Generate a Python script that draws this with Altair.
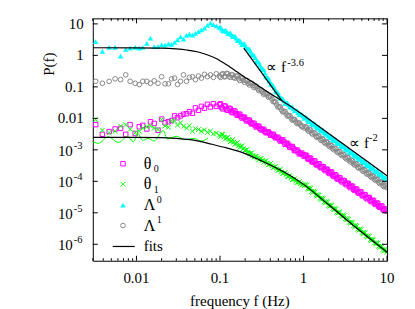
import altair as alt
import pandas as pd

FONT = "Liberation Serif"

# ---- data ----
freq = [
    0.00325, 0.00391, 0.00471, 0.00555, 0.00646, 0.00744, 0.0084, 0.00965, 0.0108, 0.0119,
    0.0133, 0.0147, 0.0163, 0.0181, 0.0200, 0.0220, 0.0241, 0.0263, 0.0286, 0.0310,
    0.0337, 0.0366, 0.0397, 0.0431, 0.0468, 0.0508, 0.0552, 0.0599, 0.0651, 0.0707,
    0.0767, 0.0833, 0.0905, 0.0983,
    0.105, 0.112, 0.120, 0.128, 0.137, 0.146, 0.156, 0.167, 0.178, 0.190,
    0.203, 0.217, 0.232, 0.247, 0.264, 0.282, 0.301, 0.322, 0.344, 0.367,
    0.392, 0.419, 0.447, 0.478, 0.510, 0.545, 0.582, 0.621, 0.664, 0.709,
    0.757, 0.808, 0.863, 0.922, 0.985,
    1.05, 1.12, 1.18, 1.25, 1.33, 1.41, 1.49, 1.58, 1.67, 1.77,
    1.88, 1.99, 2.11, 2.23, 2.37, 2.51, 2.65, 2.81, 2.98, 3.16,
    3.34, 3.54, 3.75, 3.98, 4.21, 4.46, 4.73, 5.01, 5.30, 5.62,
    5.95, 6.31, 6.68, 7.08, 7.50, 7.94, 8.41, 8.91, 9.44, 10.0,
]
theta0 = [
    0.0063, 0.0031, 0.0038, 0.0046, 0.0048, 0.0031, 0.0063, 0.0033, 0.0054, 0.006,
    0.0046, 0.0078, 0.0069, 0.0042, 0.0095, 0.0072, 0.0078, 0.0085, 0.012, 0.0105,
    0.012, 0.0135, 0.014, 0.0163, 0.0145, 0.0215, 0.018, 0.024, 0.021, 0.028,
    0.023, 0.029, 0.024, 0.027,
    0.022, 0.025, 0.019, 0.021, 0.016, 0.0175, 0.014, 0.0135, 0.0115, 0.011,
    0.0092, 0.0088, 0.0074, 0.0070, 0.0059, 0.0057, 0.0048, 0.0044, 0.0039, 0.0036,
    0.0033, 0.0031, 0.0027, 0.0025, 0.0022, 0.0020, 0.0018, 0.0016, 0.0014, 0.00125,
    0.0011, 0.00097, 0.00086, 0.00077, 0.0007,
    6.8e-4, 5.4e-4, 5.5e-4, 4.4e-4, 4.5e-4, 3.55e-4, 3.6e-4, 2.9e-4, 2.95e-4, 2.4e-4,
    2.45e-4, 1.9e-4, 2.0e-4, 1.58e-4, 1.62e-4, 1.26e-4, 1.32e-4, 1.05e-4, 1.07e-4, 8.5e-5,
    8.7e-5, 6.9e-5, 7.1e-5, 5.6e-5, 5.75e-5, 4.6e-5, 4.7e-5, 3.7e-5, 3.8e-5, 3.0e-5,
    3.1e-5, 2.45e-5, 2.5e-5, 2.0e-5, 2.04e-5, 1.62e-5, 1.66e-5, 1.32e-5, 1.35e-5, 1.15e-5,
]
theta1 = [
    0.0091, 0.0042, 0.0035, 0.0039, 0.0057, 0.0063, 0.0045, 0.0035, 0.0039, 0.0049,
    0.0054, 0.0057, 0.0049, 0.0044, 0.0091, 0.0057, 0.0052, 0.0083, 0.0083, 0.0061,
    0.0072, 0.0056, 0.0049, 0.0058, 0.0039, 0.0047, 0.0044, 0.0039, 0.0043, 0.0036,
    0.0039, 0.0032, 0.0034, 0.0029,
    0.0031, 0.0026, 0.0024, 0.0021, 0.0019, 0.00175, 0.0016, 0.00135, 0.00128, 0.00108,
    0.00098, 0.00084, 0.00078, 0.00066, 0.00061, 0.00055, 0.00052, 0.00046, 0.00043, 0.00038,
    0.00035, 0.00031, 0.00028, 0.00025, 0.00023, 0.0002, 0.00018, 0.000165, 0.000145, 0.000128,
    0.000115, 0.000103, 0.000093, 0.000085, 0.000079,
    7.9e-5, 6.0e-5, 6.2e-5, 4.8e-5, 4.9e-5, 3.7e-5, 3.8e-5, 2.9e-5, 2.95e-5, 2.24e-5,
    2.3e-5, 1.74e-5, 1.78e-5, 1.35e-5, 1.38e-5, 1.05e-5, 1.07e-5, 8.3e-6, 8.5e-6, 6.5e-6,
    6.6e-6, 5.0e-6, 5.1e-6, 3.9e-6, 4.0e-6, 3.0e-6, 3.1e-6, 2.35e-6, 2.4e-6, 1.82e-6,
    1.86e-6, 1.41e-6, 1.45e-6, 1.1e-6, 1.12e-6, 8.7e-7, 8.9e-7, 6.8e-7, 6.9e-7, 5.6e-7,
]
lambda0 = [
    2.75, 1.33, 1.8, 1.8, 0.95, 1.55, 1.7, 1.8, 1.7, 1.78,
    2.4, 3.5, 1.9, 1.9, 2.2, 2.1, 2.3, 2.25, 2.6, 3.1,
    3.9, 3.3, 4.3, 4.7, 4.4, 5.0, 5.7, 6.5, 7.3, 9.0,
    10.5, 9.5, 8.6, 7.8,
    6.8, 6.0, 5.8, 5.0, 4.6, 4.0, 3.5, 3.0, 2.6, 2.3,
    1.95, 1.6, 1.35, 1.05, 0.85, 0.65, 0.5, 0.38, 0.28, 0.2,
    0.155, 0.118, 0.092, 0.07, 0.054, 0.043, 0.036, 0.031, 0.027, 0.023,
    0.020, 0.0175, 0.0152, 0.0133, 0.0117,
    0.011, 8.7e-3, 8.5e-3, 6.8e-3, 7.1e-3, 5.6e-3, 5.4e-3, 4.3e-3, 4.4e-3, 3.5e-3,
    3.4e-3, 2.75e-3, 2.7e-3, 2.14e-3, 2.2e-3, 1.7e-3, 1.66e-3, 1.35e-3, 1.38e-3, 1.07e-3,
    1.1e-3, 8.5e-4, 8.3e-4, 6.8e-4, 6.9e-4, 5.4e-4, 5.5e-4, 4.3e-4, 4.4e-4, 3.3e-4,
    3.4e-4, 2.7e-4, 2.75e-4, 2.1e-4, 2.15e-4, 1.7e-4, 1.74e-4, 1.32e-4, 1.35e-4, 1.12e-4,
]
lambda1 = [
    0.15, 0.13, 0.15, 0.18, 0.17, 0.24, 0.15, 0.13, 0.118, 0.15,
    0.15, 0.13, 0.155, 0.13, 0.21, 0.125, 0.125, 0.18, 0.19, 0.12,
    0.15, 0.24, 0.15, 0.2, 0.21, 0.17, 0.22, 0.19, 0.25, 0.21,
    0.24, 0.2, 0.26, 0.22,
    0.25, 0.21, 0.27, 0.22, 0.24, 0.2, 0.22, 0.18, 0.19, 0.16,
    0.16, 0.13, 0.13, 0.11, 0.105, 0.088, 0.082, 0.068, 0.062, 0.055,
    0.05, 0.041, 0.034, 0.027, 0.023, 0.0185, 0.0165, 0.0138, 0.0122, 0.0103,
    0.0092, 0.0078, 0.0071, 0.0061, 0.0056,
    5.4e-3, 4.3e-3, 4.4e-3, 3.4e-3, 3.5e-3, 2.7e-3, 2.75e-3, 2.2e-3, 2.24e-3, 1.74e-3,
    1.78e-3, 1.38e-3, 1.41e-3, 1.1e-3, 1.12e-3, 8.7e-4, 8.9e-4, 7.1e-4, 7.2e-4, 5.6e-4,
    5.75e-4, 4.5e-4, 4.6e-4, 3.55e-4, 3.6e-4, 2.8e-4, 2.9e-4, 2.3e-4, 2.35e-4, 1.82e-4,
    1.86e-4, 1.45e-4, 1.48e-4, 1.15e-4, 1.17e-4, 9.3e-5, 9.5e-5, 7.4e-5, 7.6e-5, 6.3e-5,
]

# second (interleaved) set of spectral estimates in the dense high-frequency part
freq_b = [
    0.1015, 0.1085, 0.116, 0.124, 0.1325, 0.1415, 0.151, 0.1615, 0.1725, 0.184,
    0.1965, 0.21, 0.2245, 0.2395, 0.2555, 0.273, 0.2915, 0.3115, 0.333, 0.3555,
    0.3795, 0.4055, 0.433, 0.4625, 0.494, 0.5275, 0.5635, 0.6015, 0.6425, 0.6865,
    0.733, 0.7825, 0.8355, 0.8925, 0.9535,
    1.02, 1.085, 1.15, 1.215, 1.29, 1.37, 1.45, 1.535, 1.625, 1.72,
    1.825, 1.935, 2.05, 2.17, 2.30, 2.44, 2.58, 2.73, 2.895, 3.07,
    3.25, 3.44, 3.645, 3.865, 4.095, 4.335, 4.595, 4.87, 5.155, 5.46,
    5.785, 6.13, 6.495, 6.88, 7.29, 7.72, 8.175, 8.66, 9.17, 9.72,
]
theta0_b = [
    0.029, 0.02, 0.024, 0.018, 0.02, 0.0152, 0.0168, 0.0125, 0.0135, 0.0102,
    0.0108, 0.0082, 0.0087, 0.0066, 0.0069, 0.0053, 0.0056, 0.0043, 0.0045, 0.0035,
    0.0037, 0.0029, 0.0031, 0.0024, 0.0025, 0.0019, 0.0021, 0.0015, 0.0016, 0.0012,
    0.00128, 0.00094, 0.00099, 0.00074, 0.00079,
    6.2e-4, 6.6e-4, 4.98e-4, 5.4e-4, 4.06e-4, 4.38e-4, 3.29e-4, 3.57e-4, 2.69e-4, 2.92e-4,
    2.18e-4, 2.36e-4, 1.77e-4, 1.92e-4, 1.44e-4, 1.56e-4, 1.17e-4, 1.28e-4, 9.6e-5, 1.04e-4,
    7.8e-5, 8.5e-5, 6.3e-5, 6.9e-5, 5.15e-5, 5.6e-5, 4.2e-5, 4.55e-5, 3.42e-5, 3.71e-5,
    2.78e-5, 3.01e-5, 2.26e-5, 2.45e-5, 1.84e-5, 2.0e-5, 1.5e-5, 1.63e-5, 1.22e-5, 1.29e-5,
]
theta1_b = [
    0.0026, 0.0031, 0.0022, 0.0025, 0.0018, 0.0021, 0.0015, 0.0017, 0.0012, 0.00135,
    0.00095, 0.00102, 0.00074, 0.0008, 0.00058, 0.00063, 0.00048, 0.00054, 0.0004, 0.00045,
    0.00033, 0.00037, 0.00027, 0.0003, 0.00022, 0.00024, 0.000175, 0.00019, 0.000142, 0.000152,
    0.000112, 0.000121, 0.000091, 0.000097, 0.000076,
    7.3e-5, 7.6e-5, 5.6e-5, 5.97e-5, 4.37e-5, 4.6e-5, 3.39e-5, 3.6e-5, 2.64e-5, 2.81e-5,
    2.06e-5, 2.18e-5, 1.6e-5, 1.7e-5, 1.24e-5, 1.32e-5, 9.7e-6, 1.03e-5, 7.6e-6, 8.0e-6,
    5.9e-6, 6.25e-6, 4.6e-6, 4.85e-6, 3.56e-6, 3.78e-6, 2.77e-6, 2.94e-6, 2.16e-6, 2.29e-6,
    1.68e-6, 1.78e-6, 1.31e-6, 1.39e-6, 1.02e-6, 1.08e-6, 7.9e-7, 8.4e-7, 6.2e-7, 6.4e-7,
]
lambda0_b = [
    7.9, 6.0, 6.4, 5.0, 5.2, 4.0, 4.1, 3.0, 3.0, 2.2,
    2.3, 1.6, 1.6, 1.08, 1.0, 0.66, 0.6, 0.4, 0.35, 0.21,
    0.19, 0.122, 0.11, 0.074, 0.066, 0.044, 0.042, 0.030, 0.031, 0.023,
    0.0232, 0.0172, 0.0175, 0.0131, 0.0134,
    1.0e-2, 1.06e-2, 7.8e-3, 8.2e-3, 6.1e-3, 6.6e-3, 4.9e-3, 5.3e-3, 3.9e-3, 4.2e-3,
    3.1e-3, 3.3e-3, 2.46e-3, 2.64e-3, 1.96e-3, 2.09e-3, 1.56e-3, 1.67e-3, 1.24e-3, 1.32e-3,
    9.8e-4, 1.05e-3, 7.8e-4, 8.3e-4, 6.2e-4, 6.6e-4, 4.9e-4, 5.25e-4, 3.9e-4, 4.2e-4,
    3.1e-4, 3.3e-4, 2.45e-4, 2.63e-4, 1.95e-4, 2.09e-4, 1.55e-4, 1.66e-4, 1.23e-4, 1.29e-4,
]
lambda1_b = [
    0.2, 0.26, 0.21, 0.26, 0.2, 0.24, 0.19, 0.22, 0.16, 0.19,
    0.14, 0.16, 0.115, 0.13, 0.095, 0.105, 0.076, 0.08, 0.058, 0.063,
    0.047, 0.049, 0.034, 0.033, 0.023, 0.023, 0.016, 0.0165, 0.0118, 0.0122,
    0.0088, 0.0092, 0.0068, 0.0071, 0.0054,
    4.93e-3, 5.26e-3, 3.91e-3, 4.22e-3, 3.12e-3, 3.33e-3, 2.48e-3, 2.67e-3, 1.99e-3, 2.14e-3,
    1.58e-3, 1.7e-3, 1.26e-3, 1.36e-3, 1.01e-3, 1.08e-3, 8.1e-4, 8.7e-4, 6.5e-4, 6.9e-4,
    5.15e-4, 5.55e-4, 4.12e-4, 4.42e-4, 3.28e-4, 3.53e-4, 2.62e-4, 2.81e-4, 2.09e-4, 2.25e-4,
    1.67e-4, 1.79e-4, 1.33e-4, 1.44e-4, 1.07e-4, 1.15e-4, 8.5e-5, 9.2e-5, 6.8e-5, 7.1e-5,
]

# thin green line at low frequency
zig_f = [0.00291, 0.0035, 0.0046, 0.0061, 0.0078, 0.0092, 0.0104, 0.0118, 0.0138,
         0.0162, 0.0209, 0.0234, 0.0300, 0.0380, 0.0490, 0.0600, 0.0720]
zig_p = [1.9e-3, 1.6e-3, 2.6e-3, 1.7e-3, 2.7e-3, 1.8e-3, 3.3e-3, 2.0e-3, 2.3e-3,
         1.9e-3, 4.1e-3, 2.2e-3, 2.7e-3, 2.1e-3, 2.3e-3, 1.9e-3, 2.4e-3]

# fits
fitL_f = [0.003, 0.01, 0.02, 0.03, 0.04, 0.055, 0.07, 0.09, 0.12, 0.16, 0.2, 0.25,
          0.3, 0.4, 0.55, 0.75, 1.0, 2.0, 5.0, 10.0]
fitL_p = [1.75, 1.74, 1.7, 1.6, 1.48, 1.28, 1.05, 0.8, 0.5, 0.3, 0.2, 0.14,
          0.1, 0.062, 0.036, 0.0215, 0.0125, 0.0033, 0.00057, 0.00015]
fitT_f = [0.003, 0.01, 0.02, 0.03, 0.05, 0.08, 0.12, 0.2, 0.3, 0.4, 0.6, 1.0, 2.0, 5.0, 10.0]
fitT_p = [2.5e-3, 2.5e-3, 2.45e-3, 2.3e-3, 2.0e-3, 1.5e-3, 1.15e-3, 7.6e-4, 4.7e-4,
          3.3e-4, 1.9e-4, 8.0e-5, 1.8e-5, 2.4e-6, 5.6e-7]
pow_f = [0.193, 0.555]
pow_p = [1.7, 0.035]

# tick values / labels
x_major = [0.01, 0.1, 1, 10]
x_major_lbl = ["0.01", "0.1", "1", "10"]
x_minor = [0.003, 0.004, 0.005, 0.006, 0.007, 0.008, 0.009,
           0.02, 0.03, 0.04, 0.05, 0.06, 0.07, 0.08, 0.09,
           0.2, 0.3, 0.4, 0.5, 0.6, 0.7, 0.8, 0.9,
           2, 3, 4, 5, 6, 7, 8, 9]
y_plain = [10, 1, 0.1, 0.01]
y_plain_lbl = ["10", "1", "0.1", "0.01"]
y_exp = [1e-3, 1e-4, 1e-5, 1e-6]
y_exp_lbl = ["-3", "-4", "-5", "-6"]
ytitle = ["P(f)"]
ytitle_at = [2.25]   # vertical centre of the y title, in data units

W, H = 295, 243
xs = alt.Scale(type="log", domain=[0.003, 10], nice=False)
ys = alt.Scale(type="log", domain=[3e-7, 15], nice=False)

df = pd.concat([
    pd.DataFrame({"f": freq, "theta0": theta0, "theta1": theta1,
                  "lambda0": lambda0, "lambda1": lambda1}),
    pd.DataFrame({"f": freq_b, "theta0": theta0_b, "theta1": theta1_b,
                  "lambda0": lambda0_b, "lambda1": lambda1_b}),
], ignore_index=True)
X = alt.X("f:Q", scale=xs, axis=None)

MAG, GRN, CYA, GRY = "#ff00ff", "#00ff00", "#00ffff", "#888888"
XPATH = "M-1,-1L1,1M-1,1L1,-1"

sty = {
    "theta0": dict(shape="square", filled=False, color=MAG, size=20, strokeWidth=1),
    "theta1": dict(shape=XPATH, filled=False, color=GRN, size=22, strokeWidth=1),
    "lambda0": dict(shape="triangle-up", filled=True, color=CYA, size=30, strokeWidth=0),
    "lambda1": dict(shape="circle", filled=False, color=GRY, size=22, strokeWidth=1),
}

def pts(col):
    return alt.Chart(df).mark_point(clip=True, opacity=1, **sty[col]).encode(
        x=X, y=alt.Y(f"{col}:Q", scale=ys, axis=None))

def curve(fl, pl, color="black", sw=1.2):
    d = pd.DataFrame({"f": fl, "p": pl})
    return alt.Chart(d).mark_line(color=color, strokeWidth=sw, clip=True,
                                  interpolate="monotone").encode(
        x=X, y=alt.Y("p:Q", scale=ys, axis=None))

one = pd.DataFrame({"a": [0]})

def txt(s, x, y, size=15, align="left", baseline="alphabetic"):
    return alt.Chart(one).mark_text(text=s, align=align, baseline=baseline, font=FONT,
                                    fontSize=size, color="black").encode(
        x=alt.value(x), y=alt.value(y))

layers = [
    pts("theta0"), pts("theta1"), curve(zig_f, zig_p, GRN, 1.0),
    pts("lambda0"), pts("lambda1"),
    curve(fitL_f, fitL_p), curve(fitT_f, fitT_p), curve(pow_f, pow_p),
]

# inward ticks
dxM = pd.DataFrame({"v": x_major})
dxm = pd.DataFrame({"v": x_minor})
dyM = pd.DataFrame({"v": y_plain + y_exp})
XV = alt.X("v:Q", scale=xs, axis=None)
YV = alt.Y("v:Q", scale=ys, axis=None)
for d, ln in ((dxM, 5), (dxm, 2.5)):
    layers.append(alt.Chart(d).mark_rule(color="black", strokeWidth=1).encode(
        x=XV, y=alt.value(H), y2=alt.value(H - ln)))
    layers.append(alt.Chart(d).mark_rule(color="black", strokeWidth=1).encode(
        x=XV, y=alt.value(0), y2=alt.value(ln)))
layers.append(alt.Chart(dyM).mark_rule(color="black", strokeWidth=1).encode(
    y=YV, x=alt.value(0), x2=alt.value(5)))
layers.append(alt.Chart(dyM).mark_rule(color="black", strokeWidth=1).encode(
    y=YV, x=alt.value(W), x2=alt.value(W - 5)))

# tick labels
layers.append(alt.Chart(pd.DataFrame({"v": x_major, "t": x_major_lbl})).mark_text(
    font=FONT, fontSize=15, align="center", baseline="alphabetic", color="black").encode(
    x=XV, y=alt.value(265), text="t:N"))
layers.append(alt.Chart(pd.DataFrame({"v": y_plain, "t": y_plain_lbl})).mark_text(
    font=FONT, fontSize=15, align="right", baseline="middle", color="black").encode(
    y=YV, x=alt.value(-9), text="t:N"))
dye = pd.DataFrame({"v": y_exp, "t": y_exp_lbl})
layers.append(alt.Chart(dye).mark_text(
    text="10", font=FONT, fontSize=15, align="right", baseline="middle", dy=1,
    color="black").encode(y=YV, x=alt.value(-20)))
layers.append(alt.Chart(dye).mark_text(
    font=FONT, fontSize=10.5, align="left", baseline="middle", dy=-4,
    color="black").encode(y=YV, x=alt.value(-19), text="t:N"))

# titles (dx runs along the rotated text, i.e. negative = downwards)
layers.append(txt("frequency f (Hz)", W / 2, 288, align="center"))
layers.append(alt.Chart(pd.DataFrame({"v": ytitle_at, "t": ytitle})).mark_text(
    font=FONT, fontSize=15, align="center", baseline="middle", angle=270, dx=-20,
    color="black").encode(y=YV, x=alt.value(-44), text="t:N"))

# annotations
layers.append(txt("\u221d f", 174, 54))
layers.append(txt("-3.6", 195, 48, size=10.5))
layers.append(txt("\u221d f", 257, 130))
layers.append(txt("-2", 277, 123, size=10.5))

# legend
rows = [145.7, 166.3, 187.3, 207.7, 228.7]
order = ["theta0", "theta1", "lambda0", "lambda1"]
base = ["\u03b8", "\u03b8", "\u039b", "\u039b"]
idx = ["0", "1", "0", "1"]
shift = [5.5, 5.5, -5.5, -5.5]
idx_x = [61, 61, 64, 64]
for i, col in enumerate(order):
    layers.append(alt.Chart(one).mark_point(opacity=1, **sty[col]).encode(
        x=alt.value(30.3), y=alt.value(rows[i])))
    layers.append(txt(base[i], 51, rows[i], size=16, baseline="middle"))
    layers.append(txt(idx[i], idx_x[i], rows[i] + shift[i], size=10, baseline="middle"))
layers.append(alt.Chart(one).mark_rule(color="black", strokeWidth=1.2).encode(
    x=alt.value(20), x2=alt.value(42), y=alt.value(rows[4])))
layers.append(txt("fits", 51, rows[4], baseline="middle"))

chart = alt.layer(*layers).properties(
    width=W, height=H,
    autosize=alt.AutoSizeParams(type="none"),
    padding={"left": 85, "top": 10, "right": 20, "bottom": 48},
    background="white",
).configure_view(stroke="black", strokeWidth=1)

chart.save("out.html", embed_options={"renderer": "svg", "actions": False})
